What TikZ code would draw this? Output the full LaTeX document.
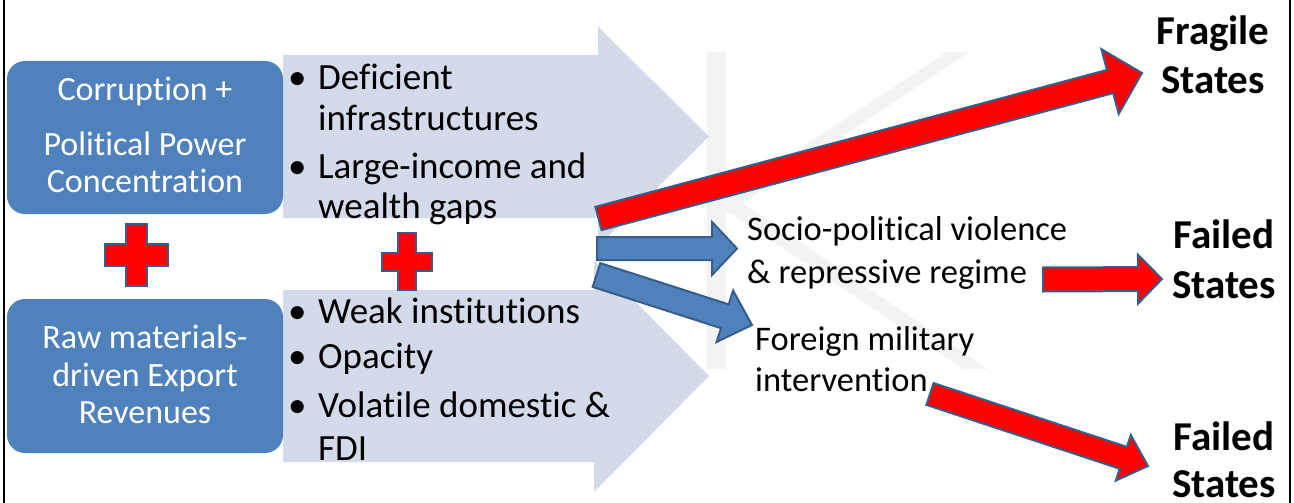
\documentclass[tikz,border=0pt]{standalone}
\usepackage{fontspec}
\setmainfont{Carlito}[Ligatures={NoCommon,NoContextual}]
\usetikzlibrary{calc}
\definecolor{boxblue}{HTML}{4F81BD}
\definecolor{edgeblue}{HTML}{385D8A}
\definecolor{lightfill}{HTML}{D3DAEA}
\definecolor{wmark}{HTML}{F2F4F4}
\definecolor{redfill}{HTML}{FF0000}

% #1 style, #2 tail coordinate, #3 tip coordinate, #4 half shaft width, #5 half head width, #6 head length
\newcommand\BlockArrow[6]{%
  \path let \p1=($(#3)-(#2)$), \n1={atan2(\y1,\x1)}, \n2={veclen(\x1,\y1)} in
    \pgfextra{\xdef\BAang{\n1}\xdef\BAlen{\n2}};
  \path[#1, shift={(#2)}, rotate=\BAang]
    (0pt,-#4pt) -- (\BAlen-#6pt,-#4pt) -- (\BAlen-#6pt,-#5pt) -- (\BAlen,0pt)
    -- (\BAlen-#6pt,#5pt) -- (\BAlen-#6pt,#4pt) -- (0pt,#4pt) -- cycle;
}
% #1 centre, #2 half width, #3 half height, #4 half vertical bar, #5 half horizontal bar
\newcommand\DrawPlus[5]{%
  \path[plusstyle, shift={(#1)}] (-#4pt,#3pt) -- (#4pt,#3pt) -- (#4pt,#5pt) -- (#2pt,#5pt)
    -- (#2pt,-#5pt) -- (#4pt,-#5pt) -- (#4pt,-#3pt) -- (-#4pt,-#3pt) -- (-#4pt,-#5pt)
    -- (-#2pt,-#5pt) -- (-#2pt,#5pt) -- (-#4pt,#5pt) -- cycle;
}

\tikzset{
  boxsty/.style={fill=boxblue, draw=none, rounded corners=18pt, inner sep=0pt},
  boxtxt/.style={text=white, font=\fontsize{34}{40}\selectfont, inner sep=0pt, anchor=base},
  bultxt/.style={font=\fontsize{37}{44}\selectfont, inner sep=0pt, anchor=base west},
  midtxt/.style={font=\fontsize{34.5}{41}\selectfont, inner sep=0pt, anchor=base west},
  endtxt/.style={font=\fontsize{41}{48}\selectfont\bfseries, inner sep=0pt, anchor=base},
  redarr/.style={fill=redfill, draw=edgeblue, line width=2pt},
  bluarr/.style={fill=boxblue, draw=edgeblue, line width=2pt},
  bigarr/.style={fill=lightfill, draw=none},
  plusstyle/.style={fill=redfill, draw=edgeblue, line width=2pt},
  wm/.style={fill=wmark, draw=none},
  frame/.style={draw=black, line width=2pt}
}

\begin{document}
\begin{tikzpicture}[x=1pt,y=-1pt]
\useasboundingbox (0,0) rectangle (1294,503);

% watermark
\path[wm] (707,52) rectangle (726,369);
\path[wm] (726,197) -- (947,52) -- (969,52) -- (726,214) -- cycle;
\path[wm] (738,200) -- (988,369) -- (963,369) -- (726,210) -- cycle;

% big light arrows
\coordinate (la1s) at (283,136.5);
\coordinate (la1e) at (709,136.5);
\coordinate (la2s) at (283,376);
\coordinate (la2e) at (709,376);
\BlockArrow{bigarr}{la1s}{la1e}{81.5}{110}{111}
\BlockArrow{bigarr}{la2s}{la2e}{86}{116}{115}

% boxes
\node[boxsty, minimum width=276pt, minimum height=153pt] (corr) at (145,137.5) {};
\node[boxsty, minimum width=276pt, minimum height=154pt] (raw) at (145,376) {};

\node[boxtxt] (c1) at (145,100) {Corruption +};
\node[boxtxt] (c2) at (145,155) {Political Power};
\node[boxtxt] (c3) at (145,192) {Concentration};
\node[boxtxt] (r1) at (145,348) {Raw materials-};
\node[boxtxt] (r2) at (145,386) {driven Export};
\node[boxtxt] (r3) at (145,423) {Revenues};

% bullet lists
\node[bultxt] (b1) at (288,90) {•};
\node[bultxt] (t1) at (318,90) {Deficient};
\node[bultxt] (t1b) at (318,130) {infrastructures};
\node[bultxt] (b2) at (288,178) {•};
\node[bultxt] (t2) at (318,178) {Large-income and};
\node[bultxt] (t2b) at (318,218) {wealth gaps};
\node[bultxt] (b3) at (288,323) {•};
\node[bultxt] (t3) at (318,323) {Weak institutions};
\node[bultxt] (b4) at (288,368) {•};
\node[bultxt] (t4) at (318,368) {Opacity};
\node[bultxt] (b5) at (288,417) {•};
\node[bultxt] (t5) at (318,417) {Volatile domestic \&};
\node[bultxt] (t5b) at (318,460) {FDI};

% plus signs
\coordinate (p1) at (136.5,255);
\coordinate (p2) at (407,261.5);
\DrawPlus{p1}{31.5}{31}{10.5}{11}
\DrawPlus{p2}{25}{28.5}{9}{9}

% middle labels
\node[midtxt] (s1) at (747,240) {Socio-political violence};
\node[midtxt] (s2) at (747,283) {\& repressive regime};
\node[midtxt] (f1) at (755,350) {Foreign military};
\node[midtxt] (f2) at (755,391) {intervention};

% end labels
\node[endtxt] (fr1) at (1213,45) {Fragile};
\node[endtxt] (fr2) at (1213,93) {States};
\node[endtxt] (fa1) at (1224,248) {Failed};
\node[endtxt] (fa2) at (1224,298) {States};
\node[endtxt] (fb1) at (1224,450) {Failed};
\node[endtxt] (fb2) at (1224,497) {States};

% connector arrows
\coordinate (ra1s) at (598.5,218.5);
\coordinate (ra1e) at (1142,73);
\coordinate (ra2s) at (1043,279.5);
\coordinate (ra2e) at (1162,279);
\coordinate (ra3s) at (930,394);
\coordinate (ra3e) at (1148,466);
\coordinate (ba1s) at (597,248.5);
\coordinate (ba1e) at (737,248.5);
\coordinate (ba2s) at (596.5,275);
\coordinate (ba2e) at (752,325);
\BlockArrow{bluarr}{ba2s}{ba2e}{12.5}{27}{28.5}
\BlockArrow{bluarr}{ba1s}{ba1e}{11.5}{26.5}{25}
\BlockArrow{redarr}{ra1s}{ra1e}{12}{33.5}{33}
\BlockArrow{redarr}{ra2s}{ra2e}{12}{24.5}{24}
\BlockArrow{redarr}{ra3s}{ra3e}{11.5}{24}{26}

% frame lines
\draw[frame] (4,0) -- (4,503);
\draw[frame] (1290,0) -- (1290,503);
\end{tikzpicture}
\end{document}
